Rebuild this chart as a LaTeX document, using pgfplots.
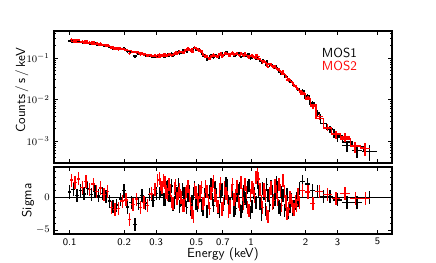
\documentclass[border=0pt]{standalone}
\usepackage{pgfplots}
\usepackage{pgfplotstable}
\pgfplotsset{compat=1.18}

% columns: E (keV), relative half bin width, rate, relative error, model, residual (sigma)
\pgfplotstableread{
E xr r yr m d
0.1000 0.023 0.257 0.05 0.247 0.8
0.1047 0.023 0.258 0.05 0.243 1.2
0.1096 0.023 0.243 0.05 0.239 0.3
0.1148 0.023 0.246 0.05 0.234 1.0
0.1202 0.023 0.236 0.05 0.230 0.5
0.1259 0.023 0.240 0.05 0.225 1.3
0.1318 0.023 0.224 0.05 0.220 0.4
0.1380 0.023 0.225 0.05 0.215 0.9
0.1445 0.023 0.210 0.05 0.208 0.2
0.1514 0.023 0.208 0.05 0.202 0.6
0.1585 0.023 0.197 0.05 0.196 0.1
0.1660 0.023 0.184 0.05 0.190 -0.6
0.1738 0.023 0.170 0.05 0.183 -1.4
0.1820 0.023 0.165 0.05 0.176 -1.2
0.1905 0.023 0.166 0.05 0.169 -0.3
0.1995 0.023 0.169 0.05 0.161 1.0
0.2089 0.023 0.142 0.05 0.154 -1.5
0.2188 0.023 0.141 0.05 0.147 -0.8
0.2291 0.023 0.111 0.05 0.140 -4.2
0.2399 0.023 0.125 0.05 0.132 -1.0
0.2512 0.023 0.128 0.05 0.126 0.3
0.2630 0.023 0.115 0.05 0.120 -0.9
0.2754 0.023 0.116 0.05 0.114 0.4
0.2884 0.023 0.106 0.05 0.109 -0.5
0.3020 0.023 0.108 0.05 0.105 0.6
0.3126 0.0087 0.1087 0.05 0.106 0.5
0.3180 0.0087 0.1118 0.05 0.107 0.9
0.3236 0.0087 0.1145 0.05 0.108 1.2
0.3292 0.0087 0.1074 0.05 0.109 -0.3
0.3350 0.0087 0.1078 0.05 0.110 -0.4
0.3408 0.0087 0.1196 0.05 0.1118 1.4
0.3467 0.0087 0.1226 0.05 0.1135 1.6
0.3527 0.0087 0.1167 0.05 0.1155 0.2
0.3589 0.0087 0.1187 0.05 0.1175 0.2
0.3651 0.0087 0.1305 0.05 0.1203 1.7
0.3715 0.0087 0.1162 0.05 0.123 -1.1
0.3780 0.0087 0.1210 0.05 0.126 -0.8
0.3846 0.0087 0.1342 0.05 0.129 0.8
0.3913 0.0087 0.1348 0.05 0.1315 0.5
0.3981 0.0087 0.1467 0.05 0.134 1.9
0.4050 0.0087 0.1274 0.05 0.137 -1.4
0.4121 0.0087 0.1379 0.05 0.140 -0.3
0.4193 0.0087 0.1521 0.05 0.1435 1.2
0.4266 0.0087 0.1514 0.05 0.147 0.6
0.4340 0.0087 0.1467 0.05 0.1505 -0.5
0.4416 0.0087 0.1417 0.05 0.154 -1.6
0.4493 0.0087 0.1594 0.05 0.157 0.3
0.4571 0.0087 0.1672 0.05 0.160 0.9
0.4651 0.0087 0.1471 0.05 0.1625 -1.9
0.4732 0.0087 0.1592 0.05 0.165 -0.7
0.4814 0.0087 0.1725 0.05 0.1675 0.6
0.4898 0.0087 0.1819 0.05 0.170 1.4
0.4983 0.0087 0.1604 0.05 0.168 -0.9
0.5070 0.0087 0.1560 0.05 0.166 -1.2
0.5158 0.0087 0.1649 0.05 0.157 1.0
0.5248 0.0087 0.1502 0.05 0.148 0.3
0.5339 0.0087 0.1281 0.05 0.137 -1.3
0.5433 0.0087 0.1147 0.05 0.126 -1.8
0.5528 0.0087 0.1183 0.05 0.116 0.4
0.5623 0.0087 0.1118 0.05 0.106 1.1
0.5721 0.0087 0.0926 0.05 0.104 -2.2
0.5821 0.0087 0.0995 0.05 0.102 -0.5
0.5922 0.0087 0.1082 0.05 0.104 0.8
0.6026 0.0087 0.1166 0.05 0.106 2.0
0.6131 0.0087 0.1058 0.05 0.108 -0.4
0.6237 0.0087 0.1029 0.05 0.110 -1.3
0.6346 0.0087 0.1202 0.05 0.1118 1.5
0.6457 0.0087 0.1158 0.05 0.1135 0.4
0.6569 0.0087 0.1061 0.05 0.1153 -1.6
0.6683 0.0087 0.1047 0.05 0.117 -2.1
0.6799 0.0087 0.1196 0.05 0.119 0.1
0.6918 0.0087 0.1283 0.05 0.121 1.2
0.7038 0.0087 0.1160 0.05 0.1228 -1.1
0.7161 0.0087 0.1233 0.05 0.1245 -0.2
0.7286 0.0087 0.1385 0.05 0.1253 2.1
0.7413 0.0087 0.1367 0.05 0.126 1.7
0.7542 0.0087 0.1222 0.05 0.126 -0.6
0.7674 0.0087 0.1197 0.05 0.126 -1.0
0.7808 0.0087 0.1311 0.05 0.1255 0.9
0.7943 0.0087 0.1288 0.05 0.125 0.6
0.8081 0.0087 0.1123 0.05 0.1248 -2.0
0.8222 0.0087 0.1139 0.05 0.1245 -1.7
0.8365 0.0087 0.1257 0.05 0.1238 0.3
0.8511 0.0087 0.1292 0.05 0.123 1.0
0.8659 0.0087 0.1299 0.05 0.122 1.3
0.8810 0.0087 0.1077 0.05 0.121 -2.2
0.8963 0.0087 0.1111 0.05 0.1195 -1.4
0.9120 0.0087 0.1227 0.05 0.118 0.8
0.9279 0.0087 0.1158 0.05 0.117 -0.2
0.9441 0.0087 0.1125 0.05 0.116 -0.6
0.9605 0.0087 0.1231 0.05 0.1145 1.5
0.9772 0.0087 0.1232 0.05 0.113 1.8
0.9942 0.0087 0.0985 0.05 0.1113 -2.3
1.0116 0.0087 0.1018 0.05 0.1095 -1.4
1.0292 0.0087 0.1102 0.05 0.1065 0.7
1.0471 0.0087 0.1061 0.05 0.1035 0.5
1.0653 0.0087 0.0968 0.05 0.1008 -0.8
1.0839 0.0087 0.1088 0.05 0.098 2.2
1.1028 0.0087 0.0992 0.05 0.0945 1.0
1.1220 0.0087 0.0869 0.05 0.091 -0.9
1.1415 0.0087 0.0766 0.05 0.088 -2.6
1.1614 0.0087 0.0905 0.05 0.085 1.3
1.1816 0.0087 0.0843 0.05 0.0818 0.6
1.2023 0.0087 0.0710 0.05 0.0785 -1.9
1.2232 0.0087 0.0827 0.05 0.0755 1.9
1.2445 0.0087 0.0731 0.05 0.0724 0.2
1.2662 0.0087 0.0658 0.05 0.070 -1.2
1.2882 0.0087 0.0730 0.05 0.0676 1.6
1.3106 0.0087 0.0672 0.05 0.0643 0.9
1.3335 0.0087 0.0586 0.05 0.061 -0.8
1.3567 0.0087 0.0574 0.05 0.0583 -0.3
1.3804 0.0087 0.0620 0.05 0.0556 2.3
1.4044 0.0087 0.0563 0.05 0.0526 1.4
1.4289 0.0087 0.0458 0.05 0.0495 -1.5
1.4538 0.0087 0.0426 0.05 0.0471 -1.9
1.4791 0.0087 0.0463 0.05 0.0447 0.7
1.5048 0.0087 0.0427 0.05 0.0423 0.2
1.5311 0.0087 0.0358 0.05 0.0398 -2.0
1.5577 0.0087 0.0351 0.05 0.0371 -1.1
1.5849 0.0087 0.0350 0.05 0.0343 0.4
1.6125 0.0087 0.0282 0.05 0.0319 -2.3
1.6406 0.0087 0.0274 0.05 0.0295 -1.4
1.6691 0.0087 0.0270 0.05 0.0275 -0.4
1.6982 0.0087 0.0231 0.05 0.0254 -1.8
1.7277 0.0087 0.0216 0.05 0.0234 -1.5
1.7579 0.0087 0.0204 0.05 0.0214 -0.9
1.7885 0.0087 0.0194 0.05 0.0196 -0.2
1.8197 0.0087 0.0173 0.05 0.0178 -0.5
1.8514 0.0087 0.0173 0.05 0.0162 1.3
1.920 0.031 0.0161 0.07 0.0138 2.4
2.050 0.034 0.0122 0.08 0.0105 2.0
2.190 0.032 0.0083 0.09 0.0076 1.0
2.335 0.032 0.00473 0.11 0.0043 0.9
2.515 0.042 0.00266 0.13 0.00263 0.1
2.735 0.042 0.00194 0.15 0.00191 0.1
3.010 0.053 0.00125 0.18 0.00135 -0.4
3.385 0.064 0.00079 0.21 0.00095 -0.8
3.845 0.064 0.00059 0.25 0.00074 -0.8
4.515 0.094 0.00056 0.30 0.00056 0.0
}\mosone

\pgfplotstableread{
E xr r yr m d
0.1023 0.023 0.279 0.05 0.247 2.6
0.1071 0.023 0.270 0.05 0.243 2.2
0.1122 0.023 0.272 0.05 0.239 2.8
0.1175 0.023 0.2516 0.05 0.234 1.5
0.1230 0.023 0.2576 0.05 0.230 2.4
0.1288 0.023 0.2385 0.05 0.225 1.2
0.1349 0.023 0.242 0.05 0.220 2.0
0.1412 0.023 0.2247 0.05 0.215 0.9
0.1479 0.023 0.2226 0.05 0.208 1.4
0.1549 0.023 0.2060 0.05 0.202 0.4
0.1622 0.023 0.2048 0.05 0.196 0.9
0.1699 0.023 0.1748 0.05 0.190 -1.6
0.1778 0.023 0.1656 0.05 0.183 -1.9
0.1862 0.023 0.1610 0.05 0.176 -1.7
0.1950 0.023 0.1639 0.05 0.169 -0.6
0.2042 0.023 0.1578 0.05 0.161 -0.4
0.2138 0.023 0.1278 0.05 0.154 -3.4
0.2239 0.023 0.1389 0.05 0.147 -1.1
0.2344 0.023 0.1379 0.05 0.140 -0.3
0.2455 0.023 0.1214 0.05 0.132 -1.6
0.2570 0.023 0.1210 0.05 0.126 -0.8
0.2692 0.023 0.1122 0.05 0.120 -1.3
0.2818 0.023 0.1169 0.05 0.114 0.5
0.2951 0.023 0.1155 0.05 0.109 1.2
0.3060 0.0087 0.1187 0.05 0.105 2.6
0.3126 0.0087 0.1214 0.05 0.106 2.9
0.3180 0.0087 0.1177 0.05 0.107 2.0
0.3236 0.0087 0.1161 0.05 0.108 1.5
0.3292 0.0087 0.1232 0.05 0.109 2.6
0.3350 0.0087 0.1221 0.05 0.110 2.2
0.3408 0.0087 0.1163 0.05 0.1118 0.8
0.3467 0.0087 0.1158 0.05 0.1135 0.4
0.3527 0.0087 0.1265 0.05 0.1155 1.9
0.3589 0.0087 0.1234 0.05 0.1175 1.0
0.3651 0.0087 0.1167 0.05 0.1203 -0.6
0.3715 0.0087 0.1175 0.05 0.123 -0.9
0.3780 0.0087 0.1342 0.05 0.126 1.3
0.3846 0.0087 0.1406 0.05 0.129 1.8
0.3913 0.0087 0.1302 0.05 0.1315 -0.2
0.3981 0.0087 0.1380 0.05 0.134 0.6
0.4050 0.0087 0.1445 0.05 0.137 1.1
0.4121 0.0087 0.1400 0.05 0.140 0.0
0.4193 0.0087 0.1349 0.05 0.1435 -1.2
0.4266 0.0087 0.1374 0.05 0.147 -1.3
0.4340 0.0087 0.1543 0.05 0.1505 0.5
0.4416 0.0087 0.1609 0.05 0.154 0.9
0.4493 0.0087 0.1696 0.05 0.157 1.6
0.4571 0.0087 0.1616 0.05 0.160 0.2
0.4651 0.0087 0.1544 0.05 0.1625 -1.0
0.4732 0.0087 0.1460 0.05 0.165 -2.3
0.4814 0.0087 0.1432 0.05 0.1675 -2.9
0.4898 0.0087 0.1802 0.05 0.170 1.2
0.4983 0.0087 0.1739 0.05 0.168 0.7
0.5070 0.0087 0.1635 0.05 0.166 -0.3
0.5158 0.0087 0.1507 0.05 0.157 -0.8
0.5248 0.0087 0.1539 0.05 0.148 0.8
0.5339 0.0087 0.1473 0.05 0.137 1.5
0.5433 0.0087 0.1197 0.05 0.126 -1.0
0.5528 0.0087 0.1137 0.05 0.116 -0.4
0.5623 0.0087 0.1145 0.05 0.106 1.6
0.5721 0.0087 0.1087 0.05 0.104 0.9
0.5821 0.0087 0.0979 0.05 0.102 -0.8
0.5922 0.0087 0.0952 0.05 0.104 -1.7
0.6026 0.0087 0.1087 0.05 0.106 0.5
0.6131 0.0087 0.1177 0.05 0.108 1.8
0.6237 0.0087 0.1232 0.05 0.110 2.4
0.6346 0.0087 0.1129 0.05 0.1118 0.2
0.6457 0.0087 0.1107 0.05 0.1135 -0.5
0.6569 0.0087 0.1072 0.05 0.1153 -1.4
0.6683 0.0087 0.1234 0.05 0.117 1.1
0.6799 0.0087 0.1315 0.05 0.119 2.1
0.6918 0.0087 0.1101 0.05 0.121 -1.8
0.7038 0.0087 0.1173 0.05 0.1228 -0.9
0.7161 0.0087 0.1332 0.05 0.1245 1.4
0.7286 0.0087 0.1291 0.05 0.1253 0.6
0.7413 0.0087 0.1254 0.05 0.126 -0.1
0.7542 0.0087 0.1121 0.05 0.126 -2.2
0.7674 0.0087 0.1166 0.05 0.126 -1.5
0.7808 0.0087 0.1318 0.05 0.1255 1.0
0.7943 0.0087 0.1369 0.05 0.125 1.9
0.8081 0.0087 0.1229 0.05 0.1248 -0.3
0.8222 0.0087 0.1257 0.05 0.1245 0.2
0.8365 0.0087 0.1337 0.05 0.1238 1.6
0.8511 0.0087 0.1193 0.05 0.123 -0.6
0.8659 0.0087 0.1153 0.05 0.122 -1.1
0.8810 0.0087 0.1343 0.05 0.121 2.2
0.8963 0.0087 0.1219 0.05 0.1195 0.4
0.9120 0.0087 0.1121 0.05 0.118 -1.0
0.9279 0.0087 0.1287 0.05 0.117 2.0
0.9441 0.0087 0.1201 0.05 0.116 0.7
0.9605 0.0087 0.1053 0.05 0.1145 -1.6
0.9772 0.0087 0.1017 0.05 0.113 -2.0
0.9942 0.0087 0.1130 0.05 0.1113 0.3
1.0116 0.0087 0.1177 0.05 0.1095 1.5
1.0292 0.0087 0.1129 0.05 0.1065 1.2
1.0471 0.0087 0.1040 0.05 0.1035 0.1
1.0653 0.0087 0.1159 0.05 0.1008 3.0
1.0839 0.0087 0.1152 0.05 0.098 3.5
1.1028 0.0087 0.1077 0.05 0.0945 2.8
1.1220 0.0087 0.0965 0.05 0.091 1.2
1.1415 0.0087 0.0849 0.05 0.088 -0.7
1.1614 0.0087 0.0782 0.05 0.085 -1.6
1.1816 0.0087 0.0863 0.05 0.0818 1.1
1.2023 0.0087 0.0797 0.05 0.0785 0.3
1.2232 0.0087 0.0664 0.05 0.0755 -2.4
1.2445 0.0087 0.0615 0.05 0.0724 -3.0
1.2662 0.0087 0.0718 0.05 0.070 0.5
1.2882 0.0087 0.0723 0.05 0.0676 1.4
1.3106 0.0087 0.0611 0.05 0.0643 -1.0
1.3335 0.0087 0.0595 0.05 0.061 -0.5
1.3567 0.0087 0.0633 0.05 0.0583 1.7
1.3804 0.0087 0.0578 0.05 0.0556 0.8
1.4044 0.0087 0.0515 0.05 0.0526 -0.4
1.4289 0.0087 0.0545 0.05 0.0495 2.0
1.4538 0.0087 0.0495 0.05 0.0471 1.0
1.4791 0.0087 0.0418 0.05 0.0447 -1.3
1.5048 0.0087 0.0478 0.05 0.0423 2.6
1.5311 0.0087 0.0416 0.05 0.0398 0.9
1.5577 0.0087 0.0360 0.05 0.0371 -0.6
1.5849 0.0087 0.0300 0.05 0.0343 -2.5
1.6125 0.0087 0.0290 0.05 0.0319 -1.8
1.6406 0.0087 0.0295 0.05 0.0295 0.0
1.6691 0.0087 0.0268 0.05 0.0275 -0.5
1.6982 0.0087 0.0236 0.05 0.0254 -1.4
1.7277 0.0087 0.0212 0.05 0.0234 -1.9
1.7579 0.0087 0.0208 0.05 0.0214 -0.6
1.7885 0.0087 0.0184 0.05 0.0196 -1.2
1.8197 0.0087 0.0182 0.05 0.0178 0.4
1.8514 0.0087 0.0156 0.05 0.0162 -0.8
1.930 0.031 0.01466 0.07 0.0137 1.0
2.060 0.034 0.01096 0.08 0.0103 0.8
2.195 0.030 0.00673 0.09 0.0074 -1.0
2.385 0.052 0.00390 0.11 0.00355 0.9
2.650 0.053 0.00215 0.13 0.00204 0.4
2.945 0.053 0.00144 0.15 0.00148 -0.2
3.310 0.063 0.00124 0.18 0.00112 0.6
3.760 0.064 0.00073 0.21 0.00076 -0.2
4.270 0.063 0.00066 0.25 0.00069 -0.2
}\mostwo

\definecolor{mosred}{RGB}{255,0,0}

\begin{document}
\begin{tikzpicture}
\useasboundingbox (0,0) rectangle (348.8pt,210.4pt);

\begin{axis}[
  scale only axis, width=270.4pt, height=105.6pt,
  at={(43.2pt,80pt)}, anchor=south west,
  xmode=log, xmin=0.082, xmax=6.0,
  ymode=log, ymin=2.95e-4, ymax=0.45,
  axis line style={line width=0.9pt},
  tick style={line width=0.6pt, black},
  tick align=inside,
  major tick length=3pt, minor tick length=1.7pt,
  xtick={0.1,0.2,0.3,0.5,0.7,1,2,3,5},
  xminorticks=false,
  ytick={1e-3,1e-2,1e-1},
  minor ytick={3e-4,4e-4,5e-4,6e-4,7e-4,8e-4,9e-4,2e-3,3e-3,4e-3,5e-3,6e-3,7e-3,8e-3,9e-3,2e-2,3e-2,4e-2,5e-2,6e-2,7e-2,8e-2,9e-2,2e-1,3e-1,4e-1},
  xticklabels={},
  yticklabel style={font=\footnotesize},
  ylabel={Counts\,/\,s\,/\,keV},
  ylabel style={font=\sffamily\fontsize{10.5}{12}\selectfont, at={(axis description cs:-0.095,0.55)}, anchor=center},
]
\addplot[draw=none, mark=none,
  error bars/.cd, x dir=both, x explicit relative, y dir=both, y explicit relative,
  error mark=none, error bar style={draw=black, solid, line width=1.15pt}]
  table[x=E, y=r, x error=xr, y error expr=1.4*\thisrow{yr}] {\mosone};
\addplot[black, line width=1.0pt, const plot mark mid] table[x=E, y=m] {\mosone};
\addplot[draw=none, mark=none,
  error bars/.cd, x dir=both, x explicit relative, y dir=both, y explicit relative,
  error mark=none, error bar style={draw=mosred, solid, line width=1.15pt}]
  table[x=E, y=r, x error=xr, y error expr=1.4*\thisrow{yr}] {\mostwo};
\addplot[mosred, line width=1.0pt, const plot mark mid] table[x=E, y=m] {\mostwo};
\node[anchor=west, font=\sffamily\fontsize{10.5}{12}\selectfont, text=black, inner sep=0pt] at (axis description cs:0.792,0.831) {MOS1};
\node[anchor=west, font=\sffamily\fontsize{10.5}{12}\selectfont, text=mosred, inner sep=0pt] at (axis description cs:0.792,0.737) {MOS2};
\end{axis}

\begin{axis}[
  scale only axis, width=270.4pt, height=53.6pt,
  at={(43.2pt,23.2pt)}, anchor=south west,
  xmode=log, xmin=0.082, xmax=6.0,
  ymin=-5.6, ymax=4.6,
  axis line style={line width=0.9pt},
  tick style={line width=0.6pt, black},
  tick align=inside,
  major tick length=3pt, minor tick length=1.7pt,
  xtick={0.1,0.2,0.3,0.5,0.7,1,2,3,5},
  xminorticks=false,
  ytick={-5,0}, minor ytick={-4,-3,-2,-1,1,2,3,4},
  xticklabels={0.1,0.2,0.3,0.5,0.7,1,2,3,5},
  xticklabel style={font=\sffamily\footnotesize},
  yticklabel style={font=\footnotesize},
  xlabel={Energy (keV)},
  xlabel style={font=\sffamily\fontsize{10.5}{12}\selectfont, at={(axis description cs:0.5,-0.30)}, anchor=center},
  ylabel={Sigma},
  ylabel style={font=\sffamily\fontsize{10.5}{12}\selectfont, at={(axis description cs:-0.077,0.5)}, anchor=center},
]
\addplot[black, line width=0.8pt] coordinates {(0.07,0) (7,0)};
\addplot[draw=none, mark=none,
  error bars/.cd, x dir=both, x explicit relative, y dir=both, y fixed=1,
  error mark=none, error bar style={draw=black, solid, line width=1.1pt}]
  table[x=E, y=d, x error=xr] {\mosone};
\addplot[draw=none, mark=none,
  error bars/.cd, x dir=both, x explicit relative, y dir=both, y fixed=1,
  error mark=none, error bar style={draw=mosred, solid, line width=1.1pt}]
  table[x=E, y=d, x error=xr] {\mostwo};
\end{axis}
\end{tikzpicture}
\end{document}
